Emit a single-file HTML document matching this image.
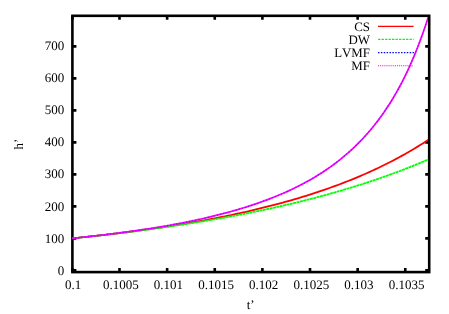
<!DOCTYPE html><html><head><meta charset="utf-8"><style>html,body{margin:0;padding:0;background:#fff}svg{display:block;will-change:transform}text{font-family:"Liberation Serif",serif;font-size:13px;fill:#000;font-kerning:none;text-rendering:geometricPrecision}</style></head><body>
<svg width="449" height="314" viewBox="0 0 449 314">
<rect width="449" height="314" fill="#fff"/>
<defs><clipPath id="c"><rect x="72.4" y="16.9" width="355.7" height="256.3"/></clipPath></defs>
<path d="M72.40 270.40h4.00 M429.20 270.40h-4.00 M72.40 238.40h4.00 M429.20 238.40h-4.00 M72.40 206.40h4.00 M429.20 206.40h-4.00 M72.40 174.40h4.00 M429.20 174.40h-4.00 M72.40 142.40h4.00 M429.20 142.40h-4.00 M72.40 110.40h4.00 M429.20 110.40h-4.00 M72.40 78.40h4.00 M429.20 78.40h-4.00 M72.40 46.40h4.00 M429.20 46.40h-4.00 M72.40 272.10v-4.00 M72.40 15.80v4.00 M119.50 272.10v-4.00 M119.50 15.80v4.00 M167.13 272.10v-4.00 M167.13 15.80v4.00 M214.76 272.10v-4.00 M214.76 15.80v4.00 M262.39 272.10v-4.00 M262.39 15.80v4.00 M310.02 272.10v-4.00 M310.02 15.80v4.00 M357.65 272.10v-4.00 M357.65 15.80v4.00 M405.28 272.10v-4.00 M405.28 15.80v4.00" stroke="#000" stroke-width="2.6" fill="none"/>
<rect x="72.4" y="15.8" width="356.8" height="256.3" fill="none" stroke="#000" stroke-width="2.6"/>
<g clip-path="url(#c)" fill="none" stroke-linejoin="round">
<path d="M71.87 238.40 L74.87 238.10 L77.88 237.79 L80.88 237.47 L83.88 237.16 L86.88 236.84 L89.89 236.51 L92.89 236.18 L95.89 235.85 L98.89 235.51 L101.90 235.17 L104.90 234.83 L107.90 234.48 L110.91 234.12 L113.91 233.76 L116.91 233.40 L119.91 233.03 L122.92 232.65 L125.92 232.27 L128.92 231.89 L131.93 231.50 L134.93 231.10 L137.93 230.70 L140.93 230.29 L143.94 229.88 L146.94 229.47 L149.94 229.04 L152.94 228.61 L155.95 228.18 L158.95 227.74 L161.95 227.29 L164.96 226.84 L167.96 226.38 L170.96 225.91 L173.96 225.44 L176.97 224.96 L179.97 224.47 L182.97 223.98 L185.98 223.48 L188.98 222.97 L191.98 222.45 L194.98 221.93 L197.99 221.40 L200.99 220.86 L203.99 220.32 L206.99 219.76 L210.00 219.20 L213.00 218.63 L216.00 218.05 L219.01 217.46 L222.01 216.87 L225.01 216.26 L228.01 215.65 L231.02 215.02 L234.02 214.39 L237.02 213.75 L240.03 213.09 L243.03 212.43 L246.03 211.76 L249.03 211.07 L252.04 210.38 L255.04 209.67 L258.04 208.96 L261.04 208.23 L264.05 207.49 L267.05 206.74 L270.05 205.98 L273.06 205.20 L276.06 204.41 L279.06 203.61 L282.06 202.80 L285.07 201.97 L288.07 201.13 L291.07 200.28 L294.08 199.41 L297.08 198.53 L300.08 197.63 L303.08 196.72 L306.09 195.79 L309.09 194.84 L312.09 193.88 L315.09 192.91 L318.10 191.92 L321.10 190.91 L324.10 189.88 L327.11 188.84 L330.11 187.77 L333.11 186.69 L336.11 185.59 L339.12 184.47 L342.12 183.33 L345.12 182.17 L348.13 180.99 L351.13 179.79 L354.13 178.57 L357.13 177.32 L360.14 176.05 L363.14 174.76 L366.14 173.45 L369.14 172.11 L372.15 170.75 L375.15 169.36 L378.15 167.94 L381.16 166.50 L384.16 165.03 L387.16 163.54 L390.16 162.01 L393.17 160.46 L396.17 158.87 L399.17 157.26 L402.18 155.61 L405.18 153.94 L408.18 152.22 L411.18 150.48 L414.19 148.70 L417.19 146.89 L420.19 145.04 L423.19 143.15 L426.20 141.22 L429.20 139.26" stroke="#ff0000" stroke-width="1.8"/>
<path d="M71.87 238.40 L74.87 238.10 L77.88 237.79 L80.88 237.48 L83.88 237.16 L86.88 236.84 L89.89 236.52 L92.89 236.20 L95.89 235.87 L98.89 235.54 L101.90 235.20 L104.90 234.86 L107.90 234.52 L110.91 234.17 L113.91 233.82 L116.91 233.46 L119.91 233.10 L122.92 232.74 L125.92 232.37 L128.92 232.00 L131.93 231.62 L134.93 231.24 L137.93 230.85 L140.93 230.46 L143.94 230.07 L146.94 229.67 L149.94 229.27 L152.94 228.86 L155.95 228.45 L158.95 228.03 L161.95 227.61 L164.96 227.18 L167.96 226.75 L170.96 226.31 L173.96 225.87 L176.97 225.42 L179.97 224.97 L182.97 224.51 L185.98 224.05 L188.98 223.58 L191.98 223.10 L194.98 222.62 L197.99 222.14 L200.99 221.65 L203.99 221.15 L206.99 220.64 L210.00 220.13 L213.00 219.62 L216.00 219.10 L219.01 218.57 L222.01 218.04 L225.01 217.49 L228.01 216.95 L231.02 216.39 L234.02 215.83 L237.02 215.27 L240.03 214.69 L243.03 214.11 L246.03 213.52 L249.03 212.93 L252.04 212.32 L255.04 211.71 L258.04 211.09 L261.04 210.47 L264.05 209.84 L267.05 209.20 L270.05 208.55 L273.06 207.89 L276.06 207.22 L279.06 206.55 L282.06 205.87 L285.07 205.18 L288.07 204.48 L291.07 203.77 L294.08 203.06 L297.08 202.33 L300.08 201.60 L303.08 200.85 L306.09 200.10 L309.09 199.34 L312.09 198.56 L315.09 197.78 L318.10 196.99 L321.10 196.19 L324.10 195.37 L327.11 194.55 L330.11 193.72 L333.11 192.87 L336.11 192.02 L339.12 191.15 L342.12 190.28 L345.12 189.39 L348.13 188.49 L351.13 187.57 L354.13 186.65 L357.13 185.72 L360.14 184.77 L363.14 183.81 L366.14 182.83 L369.14 181.85 L372.15 180.85 L375.15 179.84 L378.15 178.81 L381.16 177.77 L384.16 176.72 L387.16 175.65 L390.16 174.57 L393.17 173.48 L396.17 172.37 L399.17 171.24 L402.18 170.10 L405.18 168.95 L408.18 167.78 L411.18 166.59 L414.19 165.39 L417.19 164.17 L420.19 162.94 L423.19 161.68 L426.20 160.41 L429.20 159.13" stroke="#00ff00" stroke-width="1.8" stroke-dasharray="3 0.45"/>
<path d="M71.87 238.40 L74.87 238.09 L77.88 237.79 L80.88 237.47 L83.88 237.15 L86.88 236.83 L89.89 236.49 L92.89 236.16 L95.89 235.82 L98.89 235.47 L101.90 235.12 L104.90 234.76 L107.90 234.39 L110.91 234.02 L113.91 233.64 L116.91 233.26 L119.91 232.87 L122.92 232.47 L125.92 232.06 L128.92 231.65 L131.93 231.23 L134.93 230.80 L137.93 230.37 L140.93 229.92 L143.94 229.47 L146.94 229.01 L149.94 228.54 L152.94 228.06 L155.95 227.58 L158.95 227.08 L161.95 226.57 L164.96 226.06 L167.96 225.53 L170.96 225.00 L173.96 224.45 L176.97 223.89 L179.97 223.32 L182.97 222.74 L185.98 222.14 L188.98 221.54 L191.98 220.92 L194.98 220.29 L197.99 219.64 L200.99 218.98 L203.99 218.30 L206.99 217.62 L210.00 216.91 L213.00 216.19 L216.00 215.45 L219.01 214.70 L222.01 213.93 L225.01 213.14 L228.01 212.33 L231.02 211.51 L234.02 210.66 L237.02 209.79 L240.03 208.91 L243.03 208.00 L246.03 207.06 L249.03 206.11 L252.04 205.13 L255.04 204.12 L258.04 203.09 L261.04 202.03 L264.05 200.94 L267.05 199.83 L270.05 198.68 L273.06 197.50 L276.06 196.29 L279.06 195.05 L282.06 193.77 L285.07 192.46 L288.07 191.10 L291.07 189.71 L294.08 188.27 L297.08 186.80 L300.08 185.27 L303.08 183.71 L306.09 182.09 L309.09 180.42 L312.09 178.70 L315.09 176.92 L318.10 175.08 L321.10 173.19 L324.10 171.22 L327.11 169.20 L330.11 167.10 L333.11 164.93 L336.11 162.68 L339.12 160.35 L342.12 157.94 L345.12 155.43 L348.13 152.83 L351.13 150.14 L354.13 147.33 L357.13 144.42 L360.14 141.39 L363.14 138.24 L366.14 134.96 L369.14 131.53 L372.15 127.96 L375.15 124.24 L378.15 120.35 L381.16 116.29 L384.16 112.04 L387.16 107.58 L390.16 102.92 L393.17 98.03 L396.17 92.90 L399.17 87.51 L402.18 81.83 L405.18 75.86 L408.18 69.57 L411.18 62.93 L414.19 55.92 L417.19 48.50 L420.19 40.64 L423.19 32.31 L426.20 23.47 L429.20 14.06" stroke="#ff00ff" stroke-width="1.75"/>
<path d="M71.87 238.40 L74.87 238.09 L77.88 237.79 L80.88 237.47 L83.88 237.15 L86.88 236.83 L89.89 236.49 L92.89 236.16 L95.89 235.82 L98.89 235.47 L101.90 235.12 L104.90 234.76 L107.90 234.39 L110.91 234.02 L113.91 233.64 L116.91 233.26 L119.91 232.87 L122.92 232.47 L125.92 232.06 L128.92 231.65 L131.93 231.23 L134.93 230.80 L137.93 230.37 L140.93 229.92 L143.94 229.47 L146.94 229.01 L149.94 228.54 L152.94 228.06 L155.95 227.58 L158.95 227.08 L161.95 226.57 L164.96 226.06 L167.96 225.53 L170.96 225.00 L173.96 224.45 L176.97 223.89 L179.97 223.32 L182.97 222.74 L185.98 222.14 L188.98 221.54 L191.98 220.92 L194.98 220.29 L197.99 219.64 L200.99 218.98 L203.99 218.30 L206.99 217.62 L210.00 216.91 L213.00 216.19 L216.00 215.45 L219.01 214.70 L222.01 213.93 L225.01 213.14 L228.01 212.33 L231.02 211.51 L234.02 210.66 L237.02 209.79 L240.03 208.91 L243.03 208.00 L246.03 207.06 L249.03 206.11 L252.04 205.13 L255.04 204.12 L258.04 203.09 L261.04 202.03 L264.05 200.94 L267.05 199.83 L270.05 198.68 L273.06 197.50 L276.06 196.29 L279.06 195.05 L282.06 193.77 L285.07 192.46 L288.07 191.10 L291.07 189.71 L294.08 188.27 L297.08 186.80 L300.08 185.27 L303.08 183.71 L306.09 182.09 L309.09 180.42 L312.09 178.70 L315.09 176.92 L318.10 175.08 L321.10 173.19 L324.10 171.22 L327.11 169.20 L330.11 167.10 L333.11 164.93 L336.11 162.68 L339.12 160.35 L342.12 157.94 L345.12 155.43 L348.13 152.83 L351.13 150.14 L354.13 147.33 L357.13 144.42 L360.14 141.39 L363.14 138.24 L366.14 134.96 L369.14 131.53 L372.15 127.96 L375.15 124.24 L378.15 120.35 L381.16 116.29 L384.16 112.04 L387.16 107.58 L390.16 102.92 L393.17 98.03 L396.17 92.90 L399.17 87.51 L402.18 81.83 L405.18 75.86 L408.18 69.57 L411.18 62.93 L414.19 55.92 L417.19 48.50 L420.19 40.64 L423.19 32.31 L426.20 23.47 L429.20 14.06" stroke="#0000ff" stroke-opacity="0.4" stroke-width="1.5" stroke-dasharray="1 2.2"/>
</g>
<text x="64.2" y="274.8" text-anchor="end">0</text>
<text x="64.2" y="242.7" text-anchor="end">100</text>
<text x="64.2" y="210.6" text-anchor="end">200</text>
<text x="64.2" y="178.4" text-anchor="end">300</text>
<text x="64.2" y="146.3" text-anchor="end">400</text>
<text x="64.2" y="114.2" text-anchor="end">500</text>
<text x="64.2" y="82.1" text-anchor="end">600</text>
<text x="64.2" y="50.0" text-anchor="end">700</text>
<text x="73.1" y="289.0" text-anchor="middle">0.1</text>
<text x="120.8" y="289.0" text-anchor="middle">0.1005</text>
<text x="168.4" y="289.0" text-anchor="middle">0.101</text>
<text x="216.0" y="289.0" text-anchor="middle">0.1015</text>
<text x="263.6" y="289.0" text-anchor="middle">0.102</text>
<text x="311.3" y="289.0" text-anchor="middle">0.1025</text>
<text x="358.9" y="289.0" text-anchor="middle">0.103</text>
<text x="406.5" y="289.0" text-anchor="middle">0.1035</text>
<text x="250.7" y="309" text-anchor="middle">t’</text>
<text transform="translate(23,144.2) rotate(-90)" text-anchor="middle">h’</text>
<text x="370" y="30.8" text-anchor="end" style="font-size:12.9px">CS</text>
<path d="M378 26.40H413.6" stroke="#ff0000" stroke-width="1.25" fill="none"/>
<text x="370" y="43.8" text-anchor="end" style="font-size:12.9px">DW</text>
<path d="M378 39.40H413.7" stroke="#00ff00" stroke-width="1.25" fill="none" stroke-dasharray="2.4 1.1"/>
<text x="370" y="57.0" text-anchor="end" style="font-size:12.9px">LVMF</text>
<path d="M378 52.60H414.3" stroke="#0000ff" stroke-width="1.30" fill="none" stroke-dasharray="1.45 1.43"/>
<text x="370" y="70.2" text-anchor="end" style="font-size:12.9px">MF</text>
<path d="M378 65.80H413.2" stroke="#ff00ff" stroke-width="1.10" fill="none" stroke-dasharray="1.1 1.0"/>
</svg></body></html>
